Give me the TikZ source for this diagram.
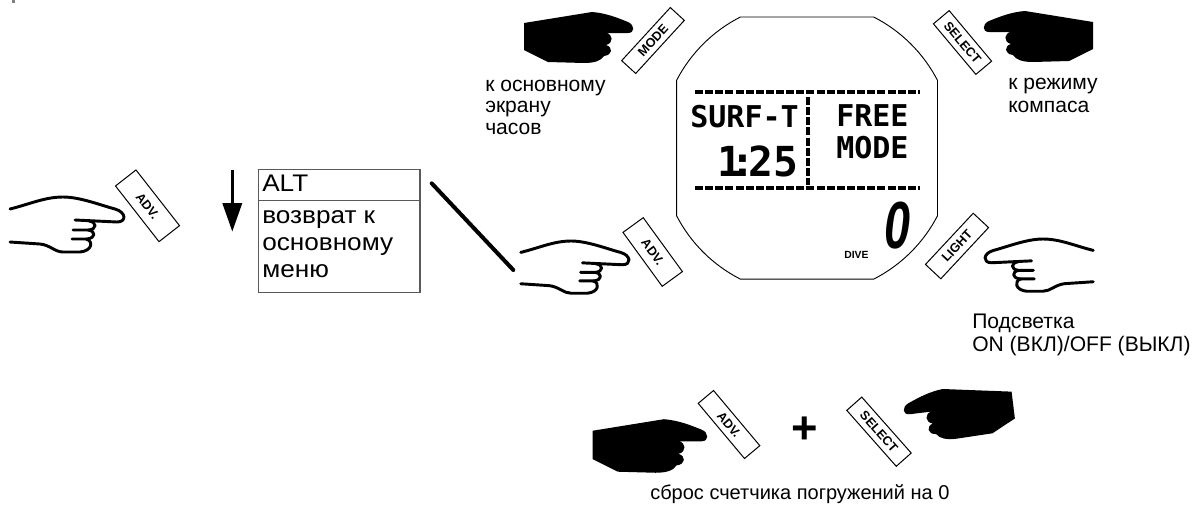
\documentclass[tikz,border=0pt]{standalone}
\usepackage{fontspec}
\setmainfont{Liberation Sans}
\newfontfamily\lcdfont{DejaVu Sans Mono}
\newfontfamily\menufont[FakeStretch=1.09]{Liberation Sans}
\usetikzlibrary{arrows.meta}
% solid pointing hand, fingertip at the origin, pointing to +x
\newcommand\drawsolidhand{%
  \fill[black] (-110,-5) -- (-42,-16)
    .. controls (-28,-15) and (-16,-10) .. (-6,-6)
    .. controls (1,-3) and (1,5) .. (-6,5) -- (-28,5)
    .. controls (-21,6) and (-20,15) .. (-28,17)
    .. controls (-21,19) and (-21,27) .. (-30,28)
    .. controls (-33,33) and (-40,35) .. (-50,35)
    -- (-86,34) -- (-110,22) -- cycle;}
% line-drawn pointing hand, fingertip at the origin, pointing to +x
\newcommand\drawopenhand{%
  \draw[handline] (-115,-8) .. controls (-95,-13) and (-80,-20) .. (-62,-20)
    .. controls (-45,-20) and (-25,-12) .. (-10,-8)
    .. controls (1,-5) and (2,5) .. (-8,5) -- (-50,3);
  \draw[handline] (-36,4) .. controls (-28,5) and (-28,12) .. (-36,13) -- (-52,13);
  \draw[handline] (-37,13) .. controls (-29,14) and (-29,21) .. (-38,22) -- (-53,22);
  \draw[handline] (-39,22) .. controls (-31,24) and (-33,34) .. (-45,35) -- (-62,35)
    .. controls (-70,35) and (-75,28) .. (-85,27) -- (-115,25);}
\tikzset{
  handline/.style={line width=2.2pt, line cap=round, line join=round},
  btn/.style={draw=black, line width=0.75pt, fill=white, inner sep=0pt,
    font=\fontsize{9.5}{9.5}\selectfont\bfseries},
  lbl/.style={anchor=base west, inner sep=0pt, font=\fontsize{15.8}{16}\selectfont},
  menutxt/.style={anchor=base west, inner sep=0pt, font=\menufont\fontsize{18}{18}\selectfont},
  lcdbig/.style={inner sep=0pt, font=\lcdfont\bfseries\fontsize{22.5}{22.5}\selectfont},
  lcdseg/.style={line width=2.3pt, dash pattern=on 6pt off 1.6pt},
}
\begin{document}
\begin{tikzpicture}[x=0.75pt,y=-0.75pt]
\useasboundingbox (0,0) rectangle (1199,508);
\fill[gray] (12,0) rectangle (14.5,2.5);

% ---- watch case ----
\draw[line width=0.7pt] (807,148) ++(-27.4:147)
  arc[start angle=-27.4, end angle=-63, radius=147] -- ++(-133.4,0)
  arc[start angle=-117, end angle=-152.6, radius=147] -- ++(0,135.4)
  arc[start angle=152.6, end angle=117, radius=147] -- ++(133.4,0)
  arc[start angle=63, end angle=27.4, radius=147] -- cycle;

% display frame
\coordinate (ftl) at (695,92);  \coordinate (ftr) at (920,92);
\coordinate (fbl) at (695,188); \coordinate (fbr) at (920,188);
\coordinate (fvt) at (808,97);  \coordinate (fvb) at (808,185);
\draw[lcdseg] (ftl) -- (ftr);
\draw[lcdseg] (fbl) -- (fbr);
\draw[lcdseg] (fvt) -- (fvb);

\node[lcdbig, anchor=base east] (surf) at (799,127) {SURF-T};
\node[inner sep=0pt, anchor=base east, font=\lcdfont\bfseries\fontsize{31}{31}\selectfont] (time) at (799,176) {1\kern-0.28em:\kern-0.16em25};
\node[lcdbig, anchor=base west] (free) at (836,126) {FREE};
\node[lcdbig, anchor=base west] (mode) at (836,158) {MODE};
\node[inner sep=0pt, anchor=base, xscale=0.7, font=\fontsize{50}{50}\selectfont\bfseries\itshape] (cnt) at (897,248) {0};
\node[inner sep=0pt, anchor=base west, font=\fontsize{7.8}{8}\selectfont\bfseries] (dive) at (844,258.5) {DIVE};

% ---- hands ----
\begin{scope}[shift={(634,28)}] \drawsolidhand \end{scope}
\begin{scope}[shift={(983,27)}, xscale=-1] \drawsolidhand \end{scope}
\begin{scope}[shift={(125,217)}] \drawopenhand \end{scope}
\begin{scope}[shift={(630,260)}, scale=0.95] \drawopenhand \end{scope}
\begin{scope}[shift={(984,258)}, xscale=-0.95, yscale=0.95] \drawopenhand \end{scope}
\begin{scope}[shift={(708,436)}, scale=1.05] \drawsolidhand \end{scope}
\begin{scope}[shift={(903,410)}, xscale=-1, rotate=-7] \drawsolidhand \end{scope}

% ---- buttons ----
\node[btn, minimum width=54pt, minimum height=14.25pt, rotate=47.5] (bmode) at (653,40.5) {MODE};
\node[btn, minimum width=49.5pt, minimum height=15.4pt, rotate=-50] (bsel) at (962.5,42.5) {SELECT};
\node[btn, minimum width=53pt, minimum height=19.5pt, rotate=-52] (badvl) at (147.5,205.8) {ADV.};
\node[btn, minimum width=50pt, minimum height=18.75pt, rotate=-54] (badvm) at (652.7,252) {ADV.};
\node[btn, minimum width=52.5pt, minimum height=15.75pt, rotate=47] (blight) at (957,246) {LIGHT};
\node[btn, minimum width=54pt, minimum height=15pt, rotate=-50] (badvb) at (729,424.5) {ADV.};
\node[btn, minimum width=56pt, minimum height=15pt, rotate=-48.5] (bselb) at (879,431.7) {SELECT};

% ---- labels ----
\node[lbl] (m1) at (485,91) {к основному};
\node[lbl] (m2) at (485,112.5) {экрану};
\node[lbl] (m3) at (485,134) {часов};
\node[lbl] (s1) at (1008,89.5) {к режиму};
\node[lbl] (s2) at (1008,112) {компаса};
\node[lbl] (g1) at (972,328.3) {Подсветка};
\node[lbl] (g2) at (972,351.7) {ON (ВКЛ)/OFF (ВЫКЛ)};
\node[lbl, font=\fontsize{15}{15}\selectfont] (rst) at (650,499) {сброс счетчика погружений на 0};
\node[inner sep=0pt, font=\fontsize{34}{34}\selectfont\bfseries] (plus) at (805,430) {+};

% ---- menu list ----
\draw[draw=black!65, line width=0.8pt] (258.3,169.3) rectangle (420,292.7);
\draw[draw=black!65, line width=0.8pt] (258.3,200.7) -- (420,200.7);
\node[menutxt] (alt) at (262,191.7) {ALT};
\node[menutxt] (r1) at (262,223.3) {возврат к};
\node[menutxt] (r2) at (262,250.5) {основному};
\node[menutxt] (r3) at (262,277.3) {меню};

% scroll arrow and pointer line
\coordinate (arrS) at (232.3,170);
\coordinate (arrE) at (232.3,231.7);
\draw[line width=2.6pt, -{Triangle[length=21.5pt, width=14.3pt]}] (arrS) -- (arrE);
\coordinate (ptrA) at (431.7,183.3);
\coordinate (ptrB) at (513.3,270);
\draw[line width=3pt, line cap=round] (ptrA) -- (ptrB);
\end{tikzpicture}
\end{document}
